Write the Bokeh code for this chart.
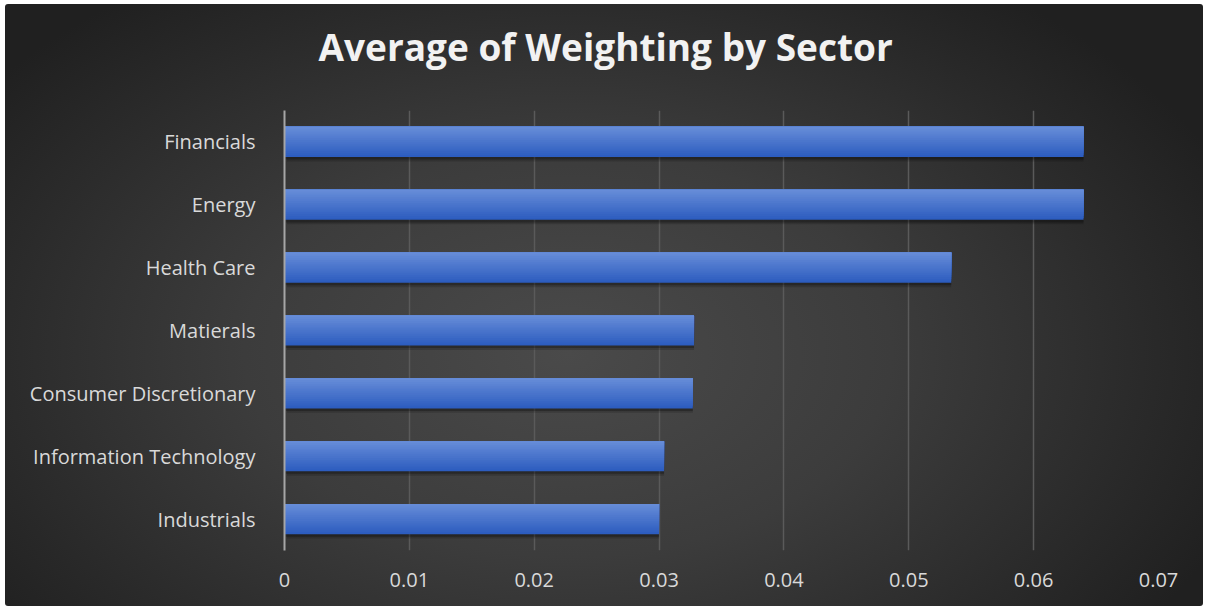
from bokeh.plotting import figure
from bokeh.models import FixedTicker, FactorRange, Range1d, Title
from bokeh.transform import dodge
from bokeh.embed import file_html
from bokeh.resources import INLINE

# ---- data ----
sectors = ["Industrials", "Information Technology", "Consumer Discretionary",
           "Matierals", "Health Care", "Energy", "Financials"]
weights = [0.0300, 0.0304, 0.0327, 0.0328, 0.0534, 0.0640, 0.0640]
x_ticks = [0, 0.01, 0.02, 0.03, 0.04, 0.05, 0.06, 0.07]
x_tick_labels = ["0", "0.01", "0.02", "0.03", "0.04", "0.05", "0.06", "0.07"]
title_text = "Average of Weighting  by Sector"

p = figure(width=1198, height=602, margin=(4, 5, 4, 5),
           y_range=FactorRange(*sectors, range_padding=0),
           x_range=Range1d(0, 0.07),
           output_backend="svg", toolbar_location=None,
           min_border_left=279, min_border_right=45,
           min_border_top=106, min_border_bottom=56)

p.styles = {"background": "radial-gradient(ellipse 60% 75% at 47% 58%, #4a4a4a 0%, #3c3c3c 45%, #2a2a2a 80%, #202020 100%)",
            "border-radius": "3px"}
p.border_fill_color = None
p.background_fill_color = None
p.outline_line_color = None

# spacer panel between the frame and the (outermost) title
p.add_layout(Title(text=" ", text_font_size="1px", standoff=36), "above")

p.title.text = title_text
p.title.text_color = "#f2f2f2"
p.title.text_font = "Open Sans"
p.title.text_font_style = "bold"
p.title.text_font_size = "37px"
p.title.align = "left"
p.title.offset = 34
p.title.standoff = 0

src = dict(sector=sectors, w=weights)

# shadow
p.hbar(y=dodge("sector", -0.07, range=p.y_range), right="w", left=0.0002, height=0.48,
       source=src, fill_color="black", fill_alpha=0.16, line_color=None)
p.hbar(y=dodge("sector", -0.04, range=p.y_range), right="w", left=0.0001, height=0.48,
       source=src, fill_color="black", fill_alpha=0.25, line_color=None)

# gradient bars: nested bars anchored at the top, lighter ones drawn last
N = 16
top = (0x66, 0x8c, 0xd8)
bot = (0x2d, 0x5d, 0xbf)
H = 0.48
for i in range(N):
    f = 1 - i / N            # fraction of bar covered from the top
    t = i / (N - 1)
    c = tuple(int(round(bot[k] + (top[k] - bot[k]) * t)) for k in range(3))
    col = "#%02x%02x%02x" % c
    h = H * f
    off = H / 2 - h / 2
    p.hbar(y=dodge("sector", off, range=p.y_range), right="w", left=0,
           height=h, source=src, fill_color=col, line_color=None)

# axes
p.xaxis.ticker = FixedTicker(ticks=x_ticks)
p.xaxis.major_label_overrides = {t: l for t, l in zip(x_ticks, x_tick_labels)}
p.xaxis.axis_line_color = None
p.xaxis.major_tick_line_color = None
p.xaxis.minor_tick_line_color = None
p.xaxis.major_label_text_color = "#d9d9d9"
p.xaxis.major_label_text_font = "Open Sans"
p.xaxis.major_label_text_font_size = "20px"
p.xaxis.major_label_standoff = 16

p.yaxis.axis_line_color = "#a6a6a6"
p.yaxis.axis_line_width = 2
p.yaxis.major_tick_line_color = None
p.yaxis.minor_tick_line_color = None
p.yaxis.major_label_text_color = "#d9d9d9"
p.yaxis.major_label_text_font = "Open Sans"
p.yaxis.major_label_text_font_size = "20px"
p.yaxis.major_label_standoff = 23

p.xgrid.grid_line_color = "#5a5a5a"
p.xgrid.grid_line_width = 1.5
p.ygrid.grid_line_color = None

open("out.html", "w").write(file_html(p, INLINE))
